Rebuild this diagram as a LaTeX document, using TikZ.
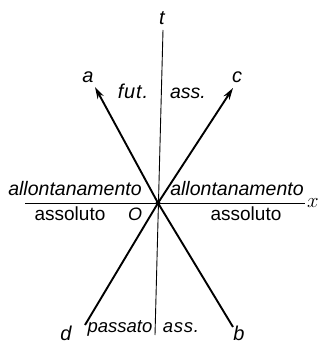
\documentclass[tikz,border=0pt]{standalone}
\usepackage{fontspec}
\setmainfont{Liberation Sans}
\usetikzlibrary{arrows.meta}
\begin{document}
\begin{tikzpicture}[x=1pt,y=-1pt,
  axis/.style={line width=0.9pt},
  ray/.style={line width=1.9pt},
  arr/.style={ray,-{Stealth[length=12pt,width=7pt]}},
  lbl/.style={font=\fontsize{19.5}{20}\selectfont\itshape, inner sep=0pt, anchor=base},
  ends/.style={font=\fontsize{20}{20}\selectfont\itshape, inner sep=0pt, anchor=base},
  upr/.style={font=\fontsize{19}{20}\selectfont, inner sep=0pt, anchor=base}]
\useasboundingbox (0,0) rectangle (321,345);
\coordinate (O) at (158,203);
\coordinate (ttop) at (163,30);
\coordinate (tbot) at (155,335);
\coordinate (xl) at (25,203);
\coordinate (xr) at (305,203);
\coordinate (A) at (95,87);
\coordinate (C) at (233,88);
\coordinate (D) at (85,325);
\coordinate (B) at (233,327);
\draw[axis] (ttop) -- (tbot);
\draw[axis] (xl) -- (xr);
\draw[arr] (O) -- (A);
\draw[arr] (O) -- (C);
\draw[ray] (O) -- (D);
\draw[ray] (O) -- (B);
\fill (O) circle (2.4pt);
\node[ends] (tl) at (162,25) {t};
\node[ends] (al) at (88,82) {a};
\node[ends] (cl) at (237,82) {c};
\node[ends] (dl) at (66,340) {d};
\node[ends] (bl) at (239,340) {b};
\node[font=\fontsize{22}{22}\selectfont, inner sep=0pt, anchor=base] (xlab) at (313,207) {$x$};
\node[ends,font=\fontsize{18}{18}\selectfont\itshape] (Ol) at (135,220) {O};
\node[lbl,font=\fontsize{20}{20}\selectfont\itshape\addfontfeature{LetterSpace=4}] (fut) at (133,98) {fut.};
\node[lbl] (ass1) at (188,98) {ass.};
\node[lbl] (all1) at (75,195) {allontanamento};
\node[lbl] (all2) at (237,195) {allontanamento};
\node[upr] (as1) at (70,220) {assoluto};
\node[upr] (as2) at (246,220) {assoluto};
\node[lbl,font=\fontsize{18.5}{20}\selectfont\itshape] (pas) at (120,332) {passato};
\node[lbl,font=\fontsize{18.5}{20}\selectfont\itshape\addfontfeature{LetterSpace=4}] (ass2) at (181,332) {ass.};
\end{tikzpicture}
\end{document}
